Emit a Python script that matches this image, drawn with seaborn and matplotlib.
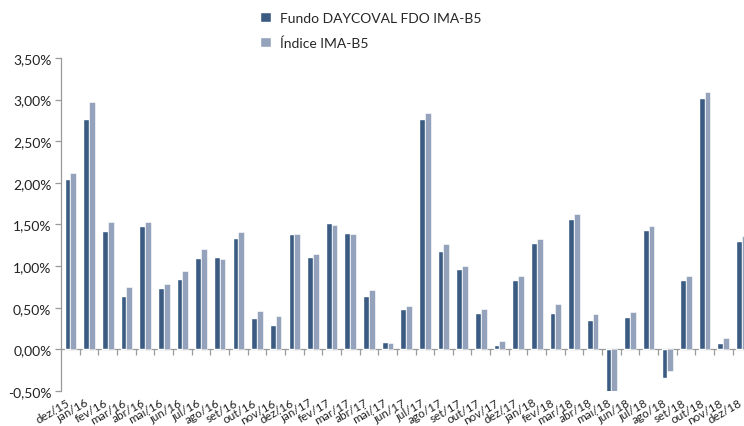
import pandas as pd
import seaborn as sns
import matplotlib.pyplot as plt
from matplotlib.ticker import FuncFormatter, FixedLocator
from matplotlib.transforms import ScaledTranslation

# Monthly returns (%), dez/15 .. dez/18
meses = ['dez/15', 'jan/16', 'fev/16', 'mar/16', 'abr/16', 'mai/16', 'jun/16',
         'jul/16', 'ago/16', 'set/16', 'out/16', 'nov/16', 'dez/16', 'jan/17',
         'fev/17', 'mar/17', 'abr/17', 'mai/17', 'jun/17', 'jul/17', 'ago/17',
         'set/17', 'out/17', 'nov/17', 'dez/17', 'jan/18', 'fev/18', 'mar/18',
         'abr/18', 'mai/18', 'jun/18', 'jul/18', 'ago/18', 'set/18', 'out/18',
         'nov/18', 'dez/18']
fundo = [2.05, 2.77, 1.42, 0.64, 1.48, 0.74, 0.84, 1.10, 1.11, 1.34, 0.38, 0.29,
         1.38, 1.11, 1.52, 1.40, 0.64, 0.09, 0.49, 2.77, 1.18, 0.96, 0.44, 0.05,
         0.83, 1.28, 0.44, 1.56, 0.35, -0.51, 0.39, 1.43, -0.34, 0.83, 3.02,
         0.08, 1.30]
indice = [2.12, 2.97, 1.53, 0.75, 1.53, 0.79, 0.94, 1.20, 1.09, 1.41, 0.46, 0.40,
          1.39, 1.15, 1.49, 1.39, 0.71, 0.08, 0.52, 2.84, 1.26, 1.00, 0.48, 0.10,
          0.88, 1.33, 0.54, 1.62, 0.42, -0.51, 0.45, 1.48, -0.26, 0.88, 3.09,
          0.14, 1.36]
series = ['Fundo DAYCOVAL FDO IMA-B5', 'Índice IMA-B5']

df = pd.DataFrame({
    'mes': meses * 2,
    'valor': fundo + indice,
    'serie': [series[0]] * len(meses) + [series[1]] * len(meses),
})

sns.set_style("white")
plt.rcParams['font.family'] = ['Lato', 'DejaVu Sans']

fig = plt.figure(figsize=(7.44, 4.27), dpi=100)
# axes run slightly past the right edge, like the cropped original
ax = fig.add_axes([0.0822, 0.082, 0.9275, 0.780])

sns.barplot(data=df, x='mes', y='valor', hue='serie',
            palette=['#2f5a8f', '#8fa0c1'], width=0.62, gap=0,
            ax=ax, legend=True)

for bar in ax.containers[1]:
    bar.set_edgecolor('white')
    bar.set_linewidth(0.4)

ax.set_xlim(-0.5, len(meses) - 0.5)
ax.set_ylim(-0.5, 3.5)
ax.set_yticks([-0.5, 0, 0.5, 1.0, 1.5, 2.0, 2.5, 3.0, 3.5])
ax.yaxis.set_major_formatter(FuncFormatter(lambda v, p: f"{v:.2f}%".replace('.', ',')))
ax.set_xlabel('')
ax.set_ylabel('')

for s in ['top', 'right', 'bottom']:
    ax.spines[s].set_visible(False)
ax.spines['left'].set_color('#9a9a9a')
ax.spines['left'].set_linewidth(0.9)

ax.tick_params(axis='y', length=4, color='#9a9a9a', width=0.9,
               labelsize=10, labelcolor='#222222', left=True, pad=3)
ax.tick_params(axis='x', length=0, labelsize=8.5, labelcolor='#222222', pad=4)
shift = ScaledTranslation(-3 / 72, 0, fig.dpi_scale_trans)
for lbl in ax.get_xticklabels():
    lbl.set_rotation(30)
    lbl.set_ha('right')
    lbl.set_va('top')
    lbl.set_rotation_mode('anchor')
    lbl.set_transform(lbl.get_transform() + shift)

# zero line with category separators
zero = ax.secondary_xaxis(0.125)
zero.spines['bottom'].set_color('#9a9a9a')
zero.spines['bottom'].set_linewidth(0.9)
zero.xaxis.set_major_locator(FixedLocator([i + 0.5 for i in range(len(meses))]))
zero.tick_params(axis='x', length=4, color='#9a9a9a', width=0.9, labelbottom=False)

handles, labels = ax.get_legend_handles_labels()
ax.get_legend().remove()
fig.legend(handles, labels, loc='upper left', bbox_to_anchor=(0.333, 1.0),
           frameon=False, fontsize=10, handlelength=0.8, handleheight=0.8,
           handletextpad=0.6, labelspacing=0.9)

fig.savefig('out.png', dpi=100)
